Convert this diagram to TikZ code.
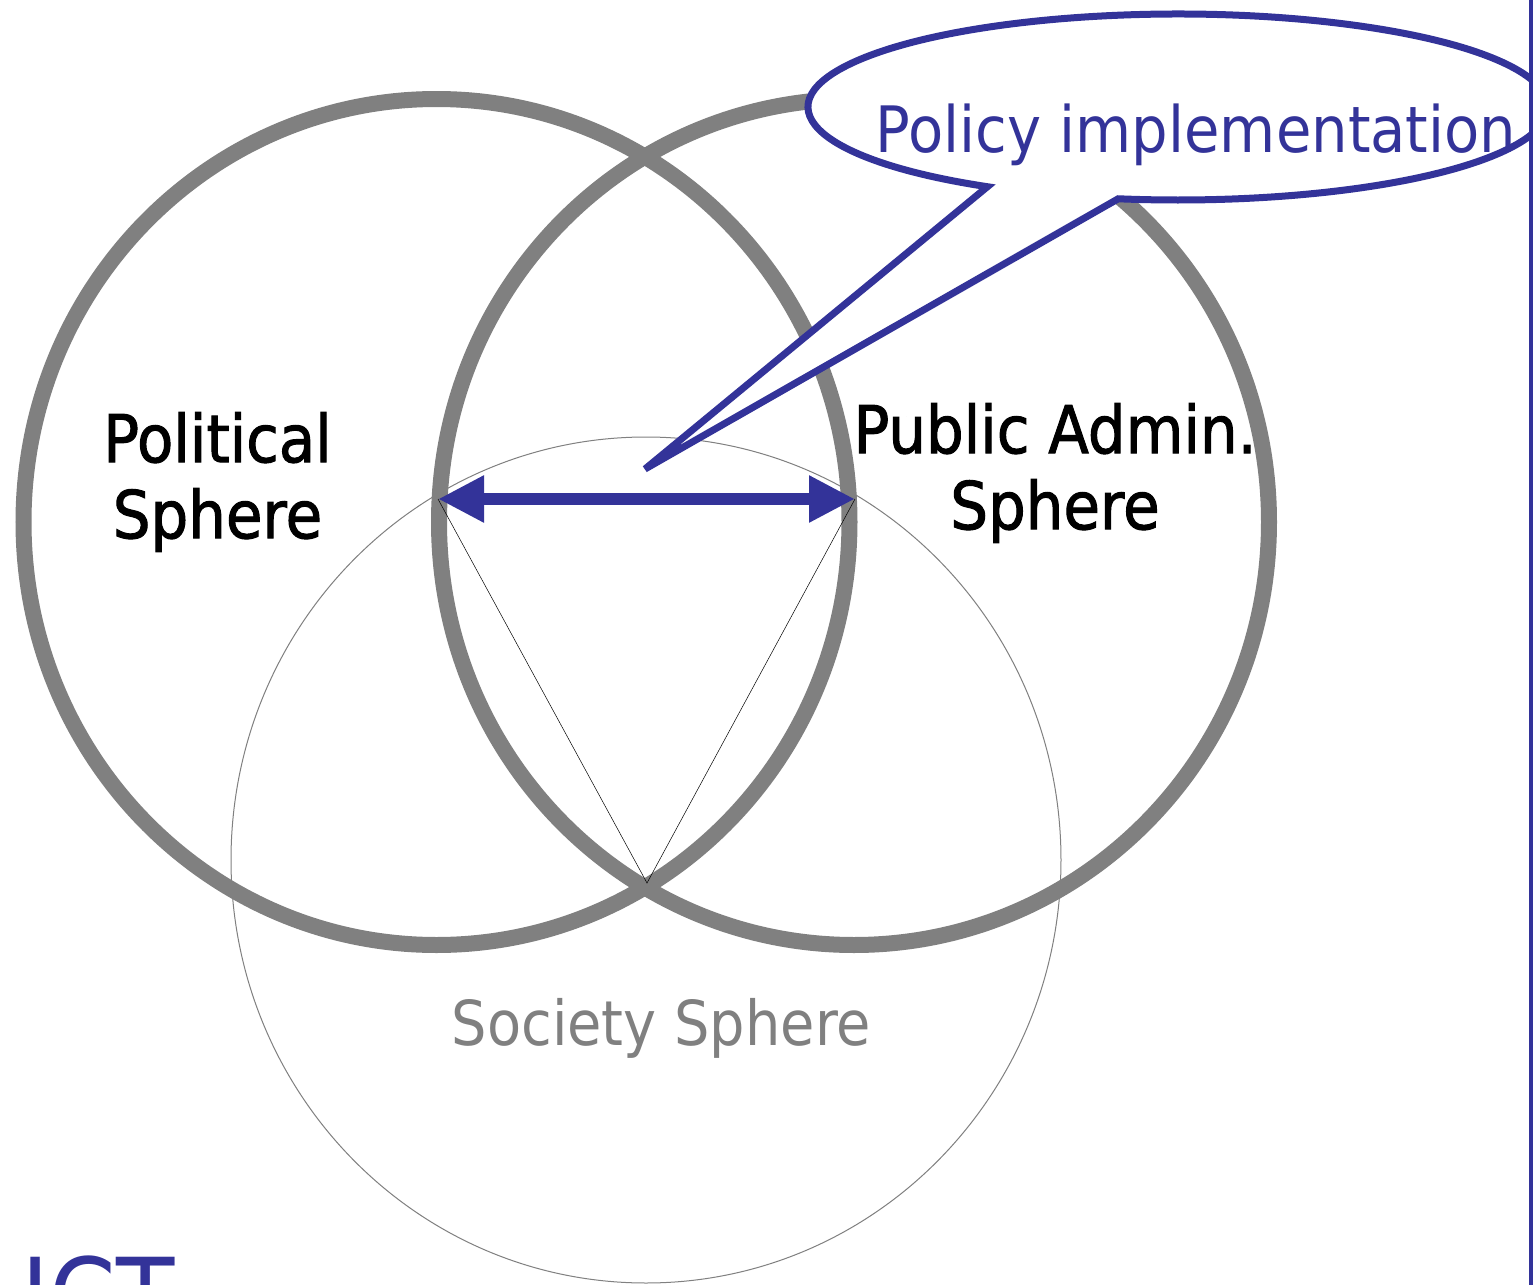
\documentclass[tikz,border=0pt]{standalone}
\usepackage{fontspec}
\setmainfont{DejaVu Sans}[FakeStretch=0.9]
\newfontfamily\labelfont{DejaVu Sans}[FakeStretch=0.9,FakeBold=1.5]
\usetikzlibrary{arrows.meta}
\definecolor{pptblue}{HTML}{333399}
\definecolor{spheregray}{HTML}{808080}

\begin{document}
\begin{tikzpicture}[x=0.5pt,y=-0.5pt,
    spherering/.style={draw=spheregray,line width=8pt},
    societyring/.style={draw=spheregray,line width=0.5pt},
    spherelabel/.style={inner sep=0pt,align=center,font=\labelfont\fontsize{33}{38}\selectfont}]
      \useasboundingbox (0,0) rectangle (1533,1285);
      \clip (0,0) rectangle (1533,1285);
      \fill[white] (0,0) rectangle (1533,1285);
      \coordinate (P) at (436.5,522);
      \coordinate (A) at (854,522);
      \coordinate (S) at (646,860);
      \coordinate (L) at (438,499);
      \coordinate (R) at (855,499);
      \coordinate (T) at (647,883);
      \coordinate (Q) at (645,469);
      \coordinate (E) at (1178,107);
      % the three spheres
      \draw[societyring] (S) ellipse[x radius=415, y radius=423];
      \draw[spherering] (P) ellipse[x radius=413, y radius=423];
      \draw[spherering] (A) ellipse[x radius=415, y radius=423];
      \draw[line width=0.25pt] (L) -- (T) -- (R);
      \draw[pptblue,line width=6pt,{Triangle[length=23pt,width=22pt]}-{Triangle[length=23pt,width=22pt]}] (L) -- (R);
      % callout
      \draw[pptblue,line width=3.5pt,fill=white] (E) ++(121:370 and 93)
        arc[start angle=121,end angle=459.3,x radius=370,y radius=93] -- (Q) -- cycle;
      \node[spherelabel] (pol) at (217.5,482) {Political\\Sphere};
      \node[spherelabel] (adm) at (1055,473) {Public Admin.\\Sphere};
      \node[inner sep=0pt,anchor=base,text=spheregray,font=\fontsize{31}{37}\selectfont] (soc) at (661.5,1045) {Society Sphere};
      \node[inner sep=0pt,anchor=base,text=pptblue,font=\fontsize{32}{38}\selectfont] (impl) at (1196,152) {Policy implementation};
      \node[inner sep=0pt,anchor=base west,text=pptblue,font=\fontsize{53}{60}\selectfont] (ict) at (21,1334) {ICT};
      \draw[pptblue,line width=2pt] (1531,0) -- (1531,1285);
\end{tikzpicture}
\end{document}
